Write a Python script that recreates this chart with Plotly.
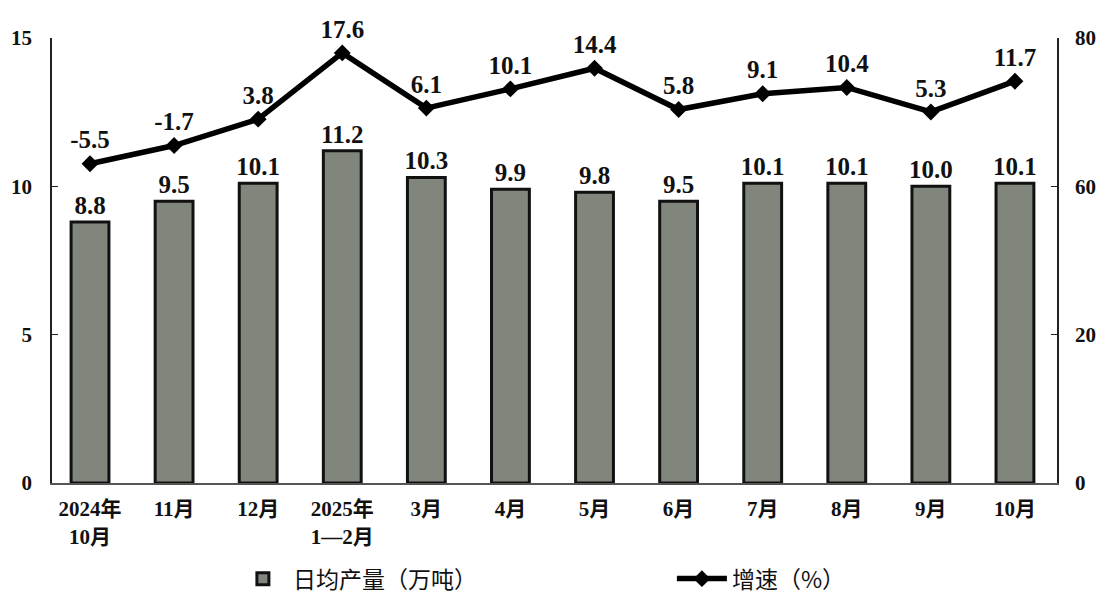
import plotly.graph_objects as go

categories = ["2024年<br>10月", "11月", "12月", "2025年<br>1—2月", "3月", "4月", "5月",
              "6月", "7月", "8月", "9月", "10月"]
output_values = [8.8, 9.5, 10.1, 11.2, 10.3, 9.9, 9.8, 9.5, 10.1, 10.1, 10.0, 10.1]
growth_values = [-5.5, -1.7, 3.8, 17.6, 6.1, 10.1, 14.4, 5.8, 9.1, 10.4, 5.3, 11.7]
left_ticks = [0, 5, 10, 15]
right_tick_labels = ["0", "20", "60", "80"]

SERIF = "Liberation Serif, Noto Sans CJK SC, serif"
CJK = "Noto Sans CJK SC, sans-serif"

y2_range = [-72.0, 20.7]
y2_ticks = [y2_range[0] + k * (y2_range[1] - y2_range[0]) / 3 for k in range(4)]

fig = go.Figure()
fig.add_trace(go.Bar(
    x=categories, y=output_values, name="日均产量（万吨）",
    marker=dict(color="#80867c", line=dict(color="#111111", width=3)),
    width=0.45,
    text=[f"{v:.1f}" for v in output_values], textposition="outside",
    constraintext="none",
    textfont=dict(family=SERIF, size=25, color="#111111", weight="bold"),
    cliponaxis=False,
))
fig.add_trace(go.Scatter(
    x=categories, y=growth_values, name="增速（%）", yaxis="y2",
    mode="lines+markers+text",
    line=dict(color="#000000", width=5.5),
    marker=dict(symbol="diamond", size=13, color="#000000"),
    text=[f"{v:.1f}" for v in growth_values], textposition="top center",
    textfont=dict(family=SERIF, size=25, color="#111111", weight="bold"),
    cliponaxis=False,
))

# the page body adds an 8px margin, so the figure is drawn 16px smaller
fig.update_layout(
    width=1094, height=592,
    margin=dict(l=44, r=45, t=30, b=117, autoexpand=False),
    paper_bgcolor="white", plot_bgcolor="white",
    showlegend=True,
    legend=dict(orientation="h", x=0.18, y=-0.215, xanchor="left", yanchor="middle",
                entrywidth=374, entrywidthmode="pixels",
                font=dict(family=CJK, size=23, color="#111111"),
                itemwidth=50, bgcolor="rgba(0,0,0,0)"),
    xaxis=dict(
        range=[-0.452, 11.5], automargin=False,
        showline=True, linecolor="#555555", linewidth=2,
        ticks="", showgrid=False,
        tickfont=dict(family=SERIF, size=21, color="#111111", weight="bold"),
        ticklabelstandoff=6,
    ),
    yaxis=dict(
        range=[0, 15], tickvals=left_ticks, automargin=False,
        showline=True, linecolor="#222222", linewidth=1.5,
        ticks="inside", ticklen=6, tickcolor="#222222",
        showgrid=False, zeroline=False,
        tickfont=dict(family=SERIF, size=21, color="#111111", weight="bold"),
        ticklabelstandoff=14,
    ),
    yaxis2=dict(
        range=y2_range, overlaying="y", side="right", automargin=False,
        tickvals=y2_ticks, ticktext=right_tick_labels,
        showline=True, linecolor="#222222", linewidth=1.5,
        ticks="inside", ticklen=6, tickcolor="#222222",
        showgrid=False, zeroline=False,
        tickfont=dict(family=SERIF, size=21, color="#111111", weight="bold"),
        ticklabelstandoff=12,
    ),
)

fig.write_html("out.html")
